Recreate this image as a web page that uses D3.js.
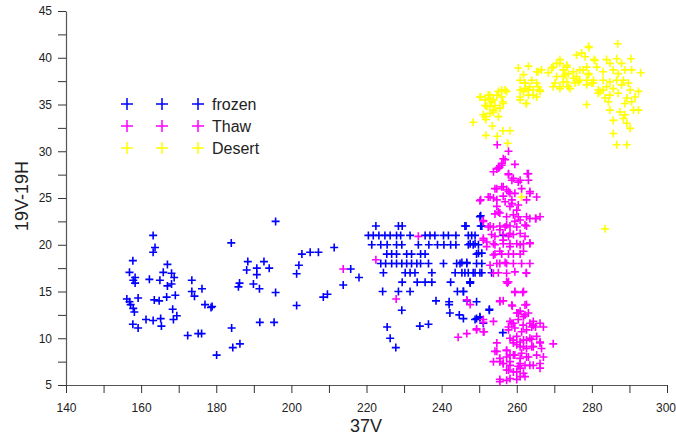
<!DOCTYPE html>
<html>
<head>
<meta charset="utf-8">
<script src="https://cdn.jsdelivr.net/npm/d3@7"></script>
<style>
body { margin: 0; background: #fff; }
svg { display: block; font-family: "Liberation Sans", Arial, sans-serif; }
</style>
</head>
<body>
<svg width="676" height="436"></svg>
<script>
var WIDTH = 676;
var HEIGHT = 436;

// series names and colours, in drawing order
var seriesNames = ['frozen', 'Thaw', 'Desert'];
var seriesColors = ['#0000ff', '#ff00ff', '#ffff00'];

// axis ticks
var xTicks = [140, 150, 160, 170, 180, 190, 200, 210, 220, 230, 240, 250, 260, 270, 280, 290, 300];
var yTicks = [5, 7.5, 10, 12.5, 15, 17.5, 20, 22.5, 25, 27.5, 30, 32.5, 35, 37.5, 40, 42.5, 45];

// [37V, 19V-19H]
var frozen = [
  [163.2,21.0],[163.7,19.7],[163.2,19.2],[157.8,18.3],[167.0,17.9],[156.9,17.05],[165.9,17.05],[168.1,16.95],
  [158.4,16.5],[157.9,16.2],[158.4,15.9],[162.2,16.3],[165.0,16.2],[168.8,16.5],[168.1,15.8],[167.0,15.6],
  [173.5,16.2],[184.0,20.2],[156.2,14.2],[156.9,13.9],[159.2,14.3],[157.2,13.6],[157.9,13.2],[158.2,12.8],
  [163.5,14.1],[164.8,14.0],[166.8,14.4],[169.1,14.6],[168.4,13.1],[169.5,12.4],[168.6,12.0],[173.5,15.0],
  [174.2,14.5],[176.2,15.3],[177.0,13.6],[178.6,13.3],[161.3,12.0],[163.2,11.9],[165.2,12.1],[165.4,11.3],
  [157.8,11.5],[159.2,11.1],[172.4,10.3],[175.2,10.5],[176.1,10.5],[180.1,8.2],[184.1,11.1],[184.4,9.0],
  [186.3,9.4],[185.9,15.5],[195.8,22.5],[188.4,18.2],[188.1,17.3],[190.8,17.5],[190.8,16.8],[192.7,18.2],
  [194.1,17.5],[186.2,15.9],[189.9,15.8],[191.5,15.3],[195.8,14.9],[201.4,13.5],[191.6,11.7],[195.4,11.7],
  [202.8,19.0],[205.0,19.2],[207.2,19.2],[202.0,17.8],[201.4,16.9],[208.5,14.4],[209.6,14.7],[211.4,19.7],
  [215.8,17.4],[218.0,16.5],[213.8,15.7],[178.9,13.4],
  [222.5,22],[228.5,22],[229.5,22],[246.5,22],[250.4,22],[250.4,23.1],
  [220.5,21],[221.8,21],[223.3,21],[224.9,21],[226.3,21],[228.0,21],[229.1,21],[231.6,21],[235.6,21],[236.9,21],
  [238.2,21],[240.5,21],[241.8,21],[243.8,21],[247.1,21],[248.9,21],
  [221.4,20],[223.8,20],[225.5,20],[228.0,20],[229.4,20],[233.8,20],[236.6,20],[238.9,20],[240.6,20],[242.4,20],
  [243.8,20],[247.1,20],[248.4,20],[249.8,20],
  [225.4,19],[226.7,19],[228.0,19],[230.7,19],[232.0,19],[234.4,19],[235.6,19],[249.3,19],
  [223.8,18],[225.1,18],[226.7,18],[228.0,18],[229.4,18],[230.7,18],[232.0,18],[233.4,18],[234.4,18],[236.5,18],
  [240.5,18],[244.0,18],[244.9,18],[246.7,18],
  [224.5,17],[230.3,17],[231.6,17],[232.9,17],[237.4,17],[243.6,17],[245.4,17],[247.1,17],[248.9,17],[250.7,17],
  [229.5,16],[233.5,16],[235.6,16],[237.4,16],[242.4,16],[247.6,16],
  [224.3,15],[228.5,15],[231.6,15],[244.2,15],[245.8,15],
  [238.5,14.0],[242.0,13.9],[242.0,13.6],[242.2,12.7],[249.3,13.9],[252.7,13.1],[229.4,13.0],[244.7,12.5],
  [245.8,12.1],[249.3,12.1],[250.2,12.3],[225.5,11.2],[226.3,10.0],[227.8,9.0],[234.2,11.3],[236.5,11.5],
  [246.2,22.0],[248.0,21.0],[247.6,20.1],[248.9,20.1],[250.2,23.0],[250.7,22.0],[249.8,19.1],[250.7,19.1],
  [245.4,18.1],[246.7,18.1],[249.3,18.0],[250.7,18.0],[246.2,17.0],[248.4,17.0],[250.2,17.0],[253.3,17.0],
  [247.6,16.05],[256.4,21.0],[247.6,15.9],[245.8,15.0],[246.7,14.0],[252.7,13.0],[248.9,12.0],[250.2,12.2],
  [251.1,11.6],[256.3,10.6]
];

var thaw = [
  [213.8,17.4],[233.8,20.9],[222.5,18.4],[227.9,14.2],[246.7,14.1],[247.6,13.6],[251.1,11.7],[253.8,11.8],
  [249.3,11.0],[251.1,10.7],[244.4,10.1],[246.7,10.5],
  [254.8,30.7],[257.8,30.0],[256.4,29.2],[256.0,28.7],[255.4,28.3],[254.7,28.1],[253.8,27.8],[259.5,28.6],
  [257.8,27.6],[263.1,27.6],[259.1,27.1],[260.9,26.9],[263.1,26.9],[263.5,25.7],[265.3,25.1],[250.4,24.8],
  [252.4,25.1],[253.8,25.0],[254.7,24.8],[256.4,25.2],[258.2,25.5],[258.7,24.8],[254.2,26.0],[256.0,26.2],
  [257.3,25.9],[254.7,24.1],[255.1,23.5],[254.2,23.3],[258.2,24.1],[260.0,23.7],[260.4,23.0],[259.5,22.5],
  [262.6,23.0],[265.1,22.8],[251.1,22.6],
  [252.9,22],[253.8,21.9],[255.5,22],[256.9,21.9],[258.2,22],[260.0,21.9],[262.6,22],
  [253.3,21.1],[254.2,20.9],[256.4,21.1],[257.8,20.9],[259.1,21.1],[262.2,20.9],
  [251.1,20.5],[253.8,20.1],[256.4,20.1],[258.2,20.1],[260.0,20.1],[261.8,20.1],[263.5,20.1],
  [254.2,19],[256.0,19],[257.8,19],[259.1,19],[260.9,19],
  [255.5,18],[257.3,18],[259.1,18],[263.5,18],[257.3,16.95],[262.6,16.95],[257.8,16.05],
  [257.5,15.9],[259.5,14.9],[261.6,14.9],[255.5,14.0],[256.4,14.0],[258.8,13.45],[262.6,13.6],[260.9,12.9],
  [260.4,12.7],[263.1,12.7],[258.2,11.8],[259.1,11.6],[257.8,11.2],[264.4,11.8],[261.7,11.4],[264.0,11.2],
  [267.1,11.2],[251.1,12.0],[249.3,10.9],[251.3,10.7],[259.1,9.8],[260.9,9.6],[262.6,9.8],[264.0,9.9],
  [266.2,9.6],[260.0,9.3],[261.8,9.1],[264.0,9.1],[266.6,8.9],[269.7,9.4],[254.7,9.5],[254.2,8.6],
  [257.3,8.7],[258.2,8.2],[259.5,8.2],[261.3,8.4],[262.6,8.0],[253.8,7.5],[255.5,7.5],[256.4,7.3],
  [258.2,7.5],[260.9,7.3],[263.5,7.1],[266.2,6.8],[257.3,6.6],[259.1,6.4],[260.9,6.8],[262.2,5.9],
  [260.0,5.6],[257.3,5.5],[255.5,5.35],
  [255.1,28.2],[256.0,28.5],[256.9,29.1],[257.8,27.5],[258.7,26.9],[260.4,26.7],[262.8,27.6],[254.7,26.0],
  [256.4,26.2],[257.8,25.7],[259.5,25.5],[261.3,26.0],[263.5,25.5],[250.2,24.7],[252.9,25.1],[256.9,24.6],
  [258.7,24.4],[260.4,24.25],[262.6,24.8],[265.0,22.8],[255.5,23.4],[257.3,23.0],[259.1,23.2],[260.9,22.65],
  [262.2,22.1],[257.3,22.1],[255.5,21.6],[252.4,21.9],[251.1,22.5],[258.2,21.2],[260.9,21.2],[263.5,20.2],
  [256.4,20.5],[254.2,20.0],[252.0,20.3],[258.2,19.8],[260.9,20.0],[255.5,19.3],[261.8,19.3],[261.3,18.0],
  [256.9,18.1],[254.7,18.0],[252.9,17.8],[259.5,17.1],[255.1,17.0],[253.8,16.95],[262.5,17.0],[257.3,16.05],
  [259.5,15.0],[261.8,15.0],[258.7,13.55],[262.2,13.55],[255.5,13.9],[262.2,12.5],[260.0,12.7],[263.5,11.6],
  [265.0,11.2],[251.1,20.7],[252.0,19.8],[253.8,18.9],[263.5,22.8],[266.2,23.0],
  [258.7,11.6],[260.4,12.0],[261.8,12.3],[257.8,10.9],[259.5,11.1],[261.3,10.7],[262.6,10.9],[264.4,11.4],
  [266.2,11.6],[258.2,10.0],[260.0,10.2],[261.8,9.8],[263.5,10.0],[265.3,10.2],[266.2,9.5],[259.1,9.5],
  [260.9,9.1],[262.6,8.9],[264.4,9.1],[257.3,8.7],[254.7,8.6],[255.5,7.85],[257.3,8.0],[259.1,8.2],
  [260.9,7.85],[263.1,8.0],[265.3,8.2],[267.1,8.0],[256.4,7.3],[258.2,7.1],[260.4,7.0],[262.2,7.1],
  [264.4,7.1],[266.2,7.3],[257.8,6.6],[260.0,6.4],[261.8,6.25],[258.2,5.7],[260.9,5.9],[255.5,5.6]
];

var desert = [
  [248.4,33.1],[251.6,33.7],[251.8,33.4],[253.5,32.7],[251.8,31.7],[254.8,31.6],[256.3,32.2],[258.2,32.2],
  [257.6,30.85],[250.4,35.8],[252.4,36.0],[253.8,35.5],[254.7,36.0],[256.0,36.55],[257.3,36.4],[256.3,35.3],
  [251.6,34.9],[252.9,34.8],[254.2,34.9],[255.5,34.6],[253.8,34.2],[256.4,35.1],[253.3,35.3],[252.9,35.65],
  [260.4,38.9],[263.1,39.1],[261.8,38.2],[265.3,38.5],[266.6,38.7],[264.0,37.6],[262.2,37.3],[260.9,36.55],
  [263.1,36.55],[265.7,36.9],[266.2,36.4],[264.4,36.0],[260.9,35.5],[262.6,35.1],[265.3,35.8],[268.4,38.4],
  [262.2,36.7],[270.6,39.4],[271.5,39.8],[269.3,38.9],[273.3,39.0],[270.6,38.0],[272.4,38.0],[270.2,37.3],
  [271.5,36.9],[273.3,37.4],[279.2,41.1],[286.9,41.5],[275.9,40.3],[277.3,40.5],[278.2,40.1],[280.8,39.7],
  [283.9,39.8],[286.6,39.9],[284.8,39.4],[290.4,39.9],[287.9,39.4],[281.3,39.0],[283.0,38.5],[285.7,38.7],
  [287.0,38.3],[288.8,38.7],[290.6,38.7],[293.0,38.4],[272.4,38.7],[273.7,38.3],[275.1,38.5],[275.9,38.0],
  [277.7,38.7],[279.1,38.3],[278.6,37.6],[280.0,37.3],[273.7,36.9],[272.4,37.4],[276.4,37.4],[275.5,37.3],
  [283.0,37.6],[284.8,37.4],[286.6,37.6],[288.4,37.6],[283.9,36.9],[285.7,36.7],[287.9,37.1],[289.7,37.3],
  [282.2,36.4],[284.8,36.0],[287.0,36.2],[283.5,35.7],[284.4,35.3],[281.7,36.55],[290.2,36.55],[292.4,36.4],
  [291.5,35.8],[289.3,35.7],[288.8,35.1],[290.6,35.3],[292.4,34.4],[284.8,34.4],[287.5,34.2],[288.8,33.9],
  [288.4,33.5],[285.7,33.3],[289.3,33.0],[290.2,32.45],[285.7,31.9],[286.6,30.7],[289.3,30.7],[278.6,35.0],
  [283.5,21.7],[279.1,41.2],[280.6,39.8],[269.7,39.0],[271.5,39.4],[273.3,39.2],[276.8,38.7],[278.6,39.0],
  [272.9,38.2],[275.1,37.8],[276.8,37.6],[279.1,38.2],[280.4,37.6],[269.7,36.9],[271.5,36.7],[274.2,36.7],
  [278.6,37.1],[280.4,37.3],[281.7,36.2],[283.0,36.55],[260.9,37.6],[262.2,37.3],[263.5,36.9],[261.8,36.4],
  [263.1,36.0],[264.4,36.55],[265.3,37.3],[260.9,35.8],[266.2,36.55],[265.7,38.5],[262.5,35.1],[250.2,35.8],
  [251.6,35.5],[252.9,36.0],[255.1,36.4],[256.0,35.8],[256.9,36.55],[252.0,34.8],[253.8,34.4],[255.5,34.6],
  [252.9,34.05],[251.1,33.9],[255.1,33.7],[261.3,25.1],[291.1,34.4]
];

var allSeries = [frozen, thaw, desert];

var svg = d3.select('svg')
    .attr('width', WIDTH)
    .attr('height', HEIGHT);

var x = d3.scaleLinear().domain([140, 300]).range([66, 667]);
var y = d3.scaleLinear().domain([5, 45]).range([385, 11]);

var xAxis = d3.axisBottom(x)
    .tickValues(xTicks)
    .tickSize(8)
    .tickSizeOuter(0)
    .tickPadding(10)
    .tickFormat(function(d) { return d % 20 === 0 ? d : ''; });

var yAxis = d3.axisLeft(y)
    .tickValues(yTicks)
    .tickSize(8)
    .tickSizeOuter(0)
    .tickPadding(6)
    .tickFormat(function(d) { return d % 5 === 0 ? d : ''; });

var gx = svg.append('g')
    .attr('transform', 'translate(0,385)')
    .call(xAxis);
var gy = svg.append('g')
    .attr('transform', 'translate(66,0)')
    .call(yAxis);

[gx, gy].forEach(function(g) {
  g.select('.domain').attr('stroke', '#555').attr('stroke-width', 1.2);
  g.selectAll('.tick line').attr('stroke', '#333');
  g.selectAll('.tick text')
      .attr('fill', '#222')
      .style('font-size', '12px')
      .style('font-family', '"Liberation Sans", Arial, sans-serif');
});

// last x label sits against the right edge; keep it inside the page
gx.selectAll('.tick text')
    .filter(function(d) { return d === 300; })
    .attr('text-anchor', 'end')
    .attr('dx', 8.5);

// axis titles
svg.append('text')
    .attr('x', 366)
    .attr('y', 432)
    .attr('text-anchor', 'middle')
    .attr('fill', '#222')
    .style('font-size', '18px')
    .text('37V');

svg.append('text')
    .attr('transform', 'translate(28,196) rotate(-90)')
    .attr('text-anchor', 'middle')
    .attr('fill', '#222')
    .style('font-size', '18px')
    .text('19V-19H');

// plus marker
var plus = function(s) { return 'M' + (-s) + ',0H' + s + 'M0,' + (-s) + 'V' + s; };

allSeries.forEach(function(pts, i) {
  svg.append('g')
    .selectAll('path')
    .data(pts)
    .enter()
    .append('path')
    .attr('transform', function(d) { return 'translate(' + x(d[0]) + ',' + y(d[1]) + ')'; })
    .attr('d', plus(4))
    .attr('fill', 'none')
    .attr('stroke', seriesColors[i])
    .attr('stroke-width', 1.6);
});

// legend: three markers then the name
var legend = svg.append('g');
var rows = legend.selectAll('g')
    .data(seriesNames)
    .enter()
    .append('g')
    .attr('transform', function(d, i) { return 'translate(0,' + (104 + i * 22) + ')'; });

[127, 162, 198].forEach(function(mx) {
  rows.append('path')
      .attr('transform', 'translate(' + mx + ',0)')
      .attr('d', plus(6))
      .attr('fill', 'none')
      .attr('stroke', function(d, i) { return seriesColors[i]; })
      .attr('stroke-width', 1.5);
});

rows.append('text')
    .attr('x', 212)
    .attr('y', 5.5)
    .attr('fill', '#222')
    .style('font-size', '16px')
    .text(function(d) { return d; });
</script>
</body>
</html>
